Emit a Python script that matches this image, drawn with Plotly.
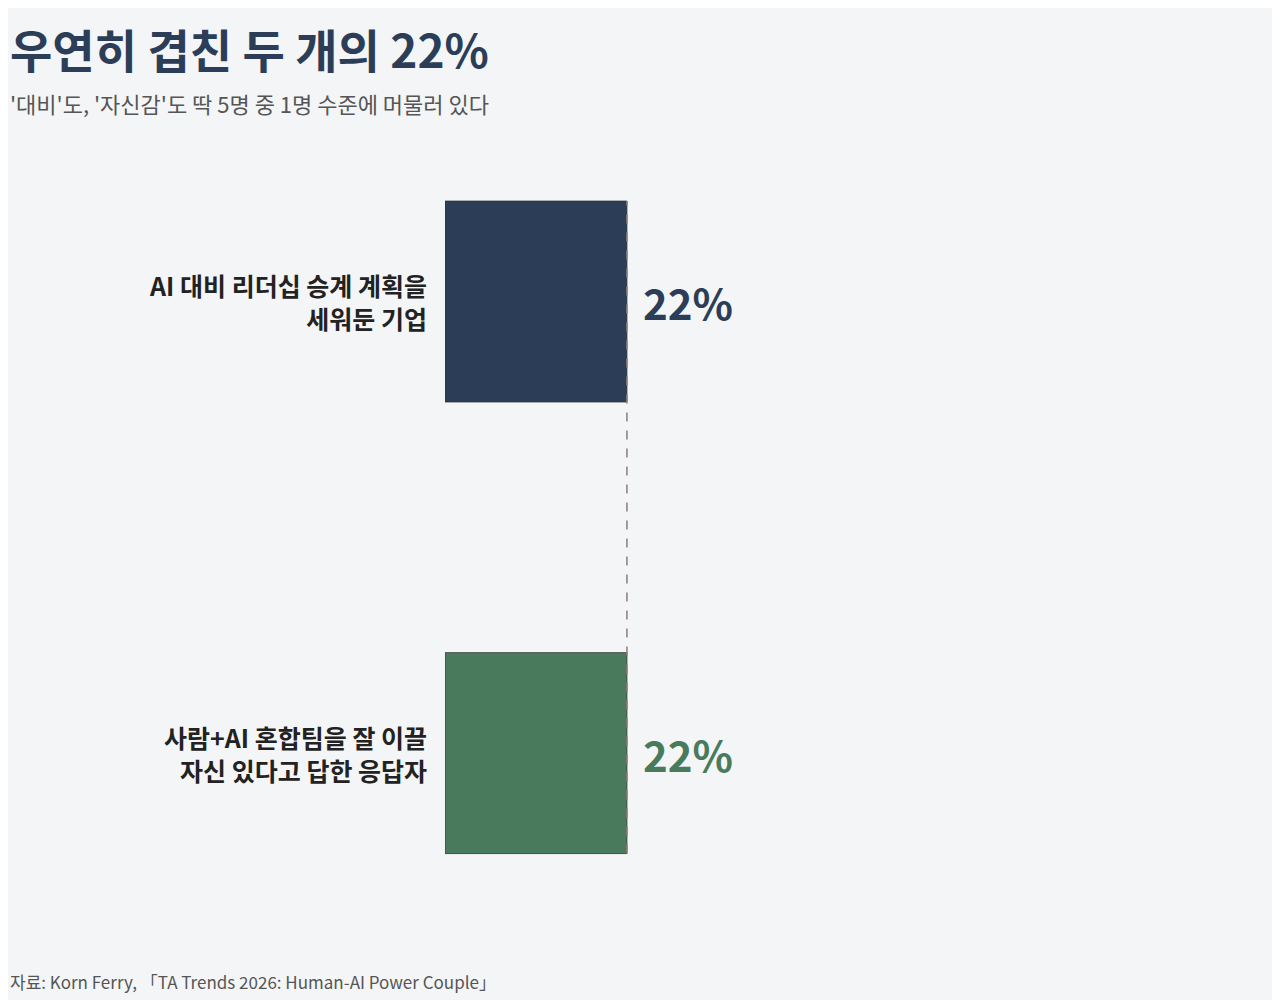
import plotly.graph_objects as go

labels = ["사람+AI 혼합팀을 잘 이끌<br>자신 있다고 답한 응답자", "AI 대비 리더십 승계 계획을<br>세워둔 기업"]
values = [22, 22]
colors = ["#4a7a5c", "#2c3e57"]
ypos = [0, 1]

FONT = "Noto Sans CJK KR"
BW = 0.445

fig = go.Figure()
fig.add_trace(go.Bar(x=values, y=ypos, orientation="h", width=BW,
                     marker=dict(color=colors, line=dict(color="#333", width=0.8)),
                     hoverinfo="skip"))
for y, v, c, lab in zip(ypos, values, colors, labels):
    fig.add_annotation(x=0, y=y, text=f"<b>{lab}</b>", xanchor="right", xshift=-16,
                       showarrow=False, align="right",
                       font=dict(family=FONT, size=25, color="#222"))
    fig.add_annotation(x=v, y=y, text=f"<b>{v}%</b>", xanchor="left", xshift=14,
                       showarrow=False, font=dict(family=FONT, size=42, color=c))

fig.add_shape(type="line", x0=22, x1=22, y0=-BW/2, y1=1+BW/2,
              line=dict(color="#8a7f77", width=1.5, dash="dash"))

fig.add_annotation(xref="paper", yref="paper", x=-437/827, y=1+(140-40)/760,
                   text="<b>우연히 겹친 두 개의 22%</b>", xanchor="left", yanchor="middle",
                   showarrow=False, font=dict(family=FONT, size=46, color="#2c3e57"))
fig.add_annotation(xref="paper", yref="paper", x=-437/827, y=1+(140-95)/760,
                   text="'대비'도, '자신감'도 딱 5명 중 1명 수준에 머물러 있다",
                   xanchor="left", yanchor="middle", showarrow=False,
                   font=dict(family=FONT, size=22, color="#555"))
fig.add_annotation(xref="paper", yref="paper", x=-437/827, y=-(973-900)/760,
                   text="자료: Korn Ferry, 「TA Trends 2026: Human-AI Power Couple」",
                   xanchor="left", yanchor="middle", showarrow=False,
                   font=dict(family=FONT, size=17, color="#555"))

fig.update_layout(
    width=1280, height=1000, paper_bgcolor="#f3f5f7", plot_bgcolor="#f3f5f7",
    margin=dict(l=437, r=16, t=140, b=100), showlegend=False,
    xaxis=dict(range=[0, 100], visible=False, fixedrange=True),
    yaxis=dict(range=[-0.343, 1.340], visible=False, fixedrange=True),
    font=dict(family=FONT),
)
fig.write_html("out.html")
